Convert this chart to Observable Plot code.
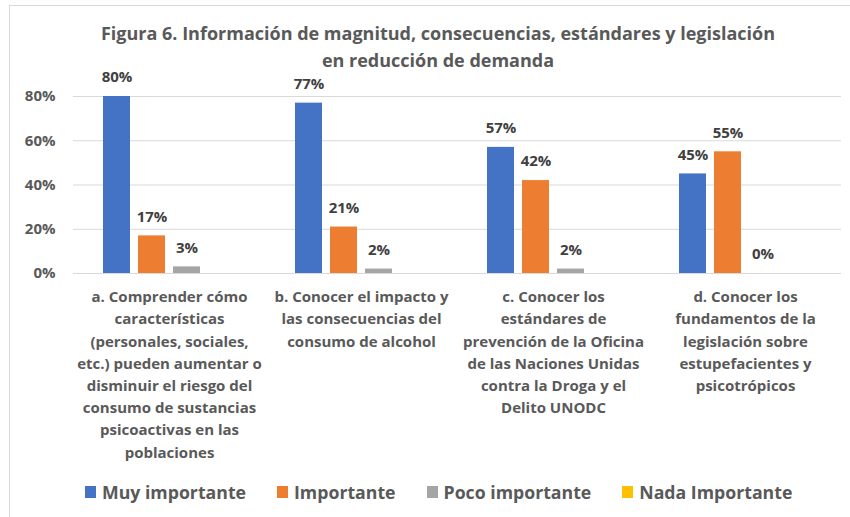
<!DOCTYPE html>
<html>
<head>
<meta charset="utf-8">
<script src="https://cdn.jsdelivr.net/npm/d3@7"></script>
<script src="https://cdn.jsdelivr.net/npm/@observablehq/plot@0.6"></script>
<style>
  html, body { margin: 0; padding: 0; background: #fff; }
  #wrap { position: relative; width: 850px; height: 517px; overflow: hidden; background: #fff;
          font-family: "Open Sans", sans-serif; font-weight: bold; }
  #frame { position: absolute; left: 9px; top: 5px; width: 900px; height: 600px;
           border-left: 1px solid #d9d9d9; border-top: 1px solid #d9d9d9; }
  #title { position: absolute; left: 0; top: 20px; width: 876px; text-align: center;
           color: #595959; font-size: 18px; line-height: 27px; }
  #chart { position: absolute; left: 0; top: 75px; }
  #legend { position: absolute; left: 85px; top: 479px; display: flex; justify-content: flex-start;
            gap: 0 31px; color: #595959; font-size: 17.7px; line-height: 26px; white-space: nowrap; }
  .item { display: flex; align-items: center; }
  .sw { width: 11px; height: 12px; margin-right: 6px; display: inline-block; }
</style>
</head>
<body>
<div id="wrap">
  <div id="frame"></div>
  <div id="title"></div>
  <div id="chart"></div>
  <div id="legend"></div>
</div>
<script>
const titleLines = ["Figura 6. Información de magnitud, consecuencias, estándares y legislación", "en reducción de demanda"];
const categories = ["a", "b", "c", "d"];
const categoryLabels = [
  "a. Comprender cómo\ncaracterísticas\n(personales, sociales,\netc.) pueden aumentar o\ndisminuir el riesgo del\nconsumo de sustancias\npsicoactivas en las\npoblaciones",
  "b. Conocer el impacto y\nlas consecuencias del\nconsumo de alcohol",
  "c. Conocer los\nestándares de\nprevención de la Oficina\nde las Naciones Unidas\ncontra la Droga y el\nDelito UNODC",
  "d. Conocer los\nfundamentos de la\nlegislación sobre\nestupefacientes y\npsicotrópicos"
];
const seriesNames = ["Muy importante", "Importante", "Poco importante", "Nada Importante"];
const seriesColors = ["#4472C4", "#ED7D31", "#A5A5A5", "#FFC000"];
const muyImportante = [0.80, 0.77, 0.57, 0.45];
const importante = [0.17, 0.21, 0.42, 0.55];
const pocoImportante = [0.03, 0.02, 0.02, 0.00];
const nadaImportante = [null, null, null, null];
const yTicks = [0, 0.2, 0.4, 0.6, 0.8];

const seriesValues = [muyImportante, importante, pocoImportante, nadaImportante];
const data = [];
categories.forEach((c, i) => {
  seriesNames.forEach((s, j) => {
    const v = seriesValues[j][i];
    if (v !== null) data.push({cat: c, series: s, value: v});
  });
});
const labelOf = Object.fromEntries(categories.map((c, i) => [c, categoryLabels[i]]));

document.getElementById("title").innerHTML = titleLines.join("<br>");

const chart = Plot.plot({
  width: 850,
  height: 400,
  marginTop: 21,
  marginBottom: 202,
  marginLeft: 72,
  marginRight: 9,
  style: {fontFamily: '"Open Sans", sans-serif', background: "transparent", overflow: "visible"},
  fx: {domain: categories, padding: 0},
  x: {domain: seriesNames, paddingInner: 0.215, paddingOuter: 0.83},
  y: {domain: [0, 0.8]},
  color: {domain: seriesNames, range: seriesColors},
  marks: [
    Plot.gridY(yTicks, {stroke: "#d9d9d9", strokeOpacity: 1, strokeWidth: 1}),
    Plot.barY(data, {fx: "cat", x: "series", y: "value", fill: "series"}),
    Plot.text(data, {fx: "cat", x: "series", y: "value", text: d => d3.format(".0%")(d.value),
      dy: -19, fill: "#404040", fontSize: 15, fontWeight: "bold"}),
    Plot.axisY(yTicks, {tickFormat: d3.format(".0%"), tickSize: 0, tickPadding: 18, fontSize: 15,
      fontWeight: "bold", color: "#595959", label: null}),
    Plot.axisX({ticks: [], label: null}),
    Plot.axisFx({anchor: "bottom", tickSize: 0, tickPadding: 13, fontSize: 15, fontWeight: "bold",
      color: "#595959", label: null, lineHeight: 1.48, tickFormat: d => labelOf[d]})
  ]
});
document.getElementById("chart").appendChild(chart);

const legend = document.getElementById("legend");
seriesNames.forEach((s, i) => {
  const item = document.createElement("div");
  item.className = "item";
  item.innerHTML = `<span class="sw" style="background:${seriesColors[i]}"></span><span>${s}</span>`;
  legend.appendChild(item);
});
</script>
</body>
</html>
